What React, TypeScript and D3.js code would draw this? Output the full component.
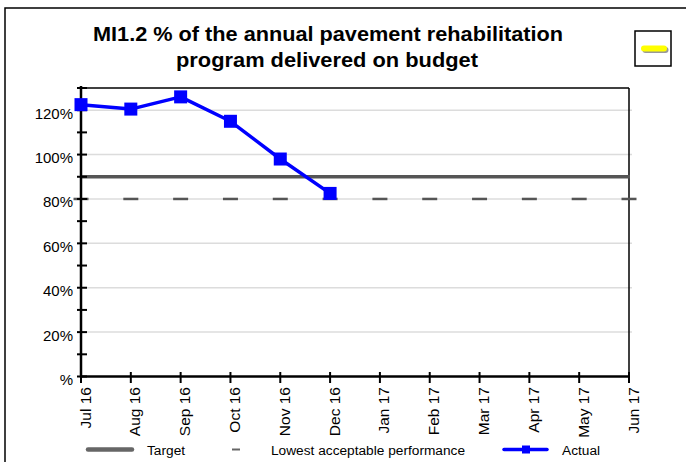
import React from "react";
import * as d3 from "d3";

const months = ["Jul 16","Aug 16","Sep 16","Oct 16","Nov 16","Dec 16","Jan 17","Feb 17","Mar 17","Apr 17","May 17","Jun 17"];
const actual: (number | null)[] = [122.5, 120.5, 126, 115, 98, 82.5, null, null, null, null, null, null];
const targetValue = 90;
const lowestValue = 80;
const yTicksMajor = [0, 20, 40, 60, 80, 100, 120];
const yTicksAll = [0, 10, 20, 30, 40, 50, 60, 70, 80, 90, 100, 110, 120, 130];
const titleLines = ["MI1.2 % of the annual pavement rehabilitation", "program delivered on budget"];
const legendLabels = ["Target", "Lowest acceptable performance", "Actual"];

const FONT = "'Liberation Sans', Arial, sans-serif";

export default function App() {
  const W = 686, H = 462;
  const left = 81, right = 629, top = 88, bottom = 376.5;
  const x = d3.scalePoint<string>().domain(months).range([left, right]);
  const y = d3.scaleLinear().domain([0, 130]).range([bottom, top]);

  const pts = months
    .map((m, i) => ({ m, v: actual[i] }))
    .filter((d) => d.v != null) as { m: string; v: number }[];
  const line = d3
    .line<{ m: string; v: number }>()
    .x((d) => x(d.m)!)
    .y((d) => y(d.v));

  const yPct = (v: number) => (v === 0 ? "%" : `${v}%`);

  return (
    <div style={{ position: "fixed", left: 0, top: 0, width: W, height: H, background: "#fff" }}>
      <svg width={W} height={H} style={{ display: "block" }} fontFamily={FONT}>
        <rect x={0} y={0} width={W} height={H} fill="#fff" />
        {/* outer border */}
        <rect x={5} y={8} width={720} height={480} fill="none" stroke="#000" strokeWidth={1.5} />

        {/* title */}
        <text x={328} y={41} textAnchor="middle" fontWeight="bold" fontSize={21} textLength={470} lengthAdjust="spacingAndGlyphs" fill="#000">
          {titleLines[0]}
        </text>
        <text x={327} y={66.5} textAnchor="middle" fontWeight="bold" fontSize={21} textLength={302} lengthAdjust="spacingAndGlyphs" fill="#000">
          {titleLines[1]}
        </text>

        {/* yellow indicator box */}
        <rect x={635} y={31} width={36} height={35} fill="#fff" stroke="#000" strokeWidth={1.5} />
        <rect x={642.5} y={47} width={26} height={6} rx={3} fill="#999" />
        <rect x={641} y={45.5} width={26} height={6} rx={3} fill="#ffff00" />

        {/* gridlines */}
        {yTicksMajor.filter((v) => v > 0).map((v) => (
          <line key={"g" + v} x1={left} x2={right + 3} y1={y(v)} y2={y(v)} stroke="#dcdcdc" strokeWidth={1.5} />
        ))}

        {/* plot frame top/right */}
        <line x1={left} x2={right} y1={top} y2={top} stroke="#000" strokeWidth={1.5} />
        <line x1={right} x2={right} y1={top} y2={bottom} stroke="#000" strokeWidth={1.5} />

        {/* target */}
        <line x1={left} x2={right + 1} y1={y(targetValue)} y2={y(targetValue)} stroke="#555" strokeWidth={3.5} />

        {/* lowest acceptable dashes */}
        {months.map((m) => (
          <line key={"l" + m} x1={x(m)! - 7.5} x2={x(m)! + 7.5} y1={y(lowestValue)} y2={y(lowestValue)} stroke="#555" strokeWidth={2.5} />
        ))}

        {/* axes */}
        <line x1={left} x2={left} y1={top - 2} y2={bottom + 1} stroke="#000" strokeWidth={2.5} />
        <line x1={left - 1} x2={right + 1} y1={bottom} y2={bottom} stroke="#000" strokeWidth={2.5} />
        {yTicksAll.map((v) => (
          <line key={"yt" + v} x1={left - 4} x2={left + 6} y1={y(v)} y2={y(v)} stroke="#000" strokeWidth={2} />
        ))}
        {months.map((m) => (
          <line key={"xt" + m} x1={x(m)!} x2={x(m)!} y1={bottom - 4.5} y2={bottom + 6.5} stroke="#000" strokeWidth={2} />
        ))}
        {yTicksMajor.map((v) => (
          <text key={"yl" + v} x={73} y={y(v) + 8.5} textAnchor="end" fontSize={15} fill="#000">
            {yPct(v)}
          </text>
        ))}
        {months.map((m) => (
          <text key={"xl" + m} transform={`translate(${x(m)! + 9.5},387) rotate(-90)`} textAnchor="end" fontSize={15.5} fill="#000">
            {m}
          </text>
        ))}

        {/* actual */}
        <path d={line(pts) || ""} fill="none" stroke="#0000ff" strokeWidth={3.5} strokeLinejoin="round" />
        {pts.map((d) => (
          <rect key={"p" + d.m} x={x(d.m)! - 6.5} y={y(d.v) - 6.5} width={13} height={13} fill="#0000ff" />
        ))}

        {/* legend */}
        <line x1={88} x2={132} y1={449.5} y2={449.5} stroke="#666" strokeWidth={4.5} strokeLinecap="round" />
        <text x={147} y={454.5} fontSize={13.7} fill="#000">{legendLabels[0]}</text>
        <line x1={232} x2={240} y1={449.5} y2={449.5} stroke="#666" strokeWidth={2} />
        <text x={271} y={454.5} fontSize={13.7} fill="#000">{legendLabels[1]}</text>
        <line x1={504} x2={547} y1={449.5} y2={449.5} stroke="#0000ff" strokeWidth={3.5} strokeLinecap="round" />
        <rect x={522} y={445.5} width={8} height={8} fill="#0000ff" />
        <text x={562} y={454.5} fontSize={13.7} fill="#000">{legendLabels[2]}</text>
      </svg>
    </div>
  );
}
